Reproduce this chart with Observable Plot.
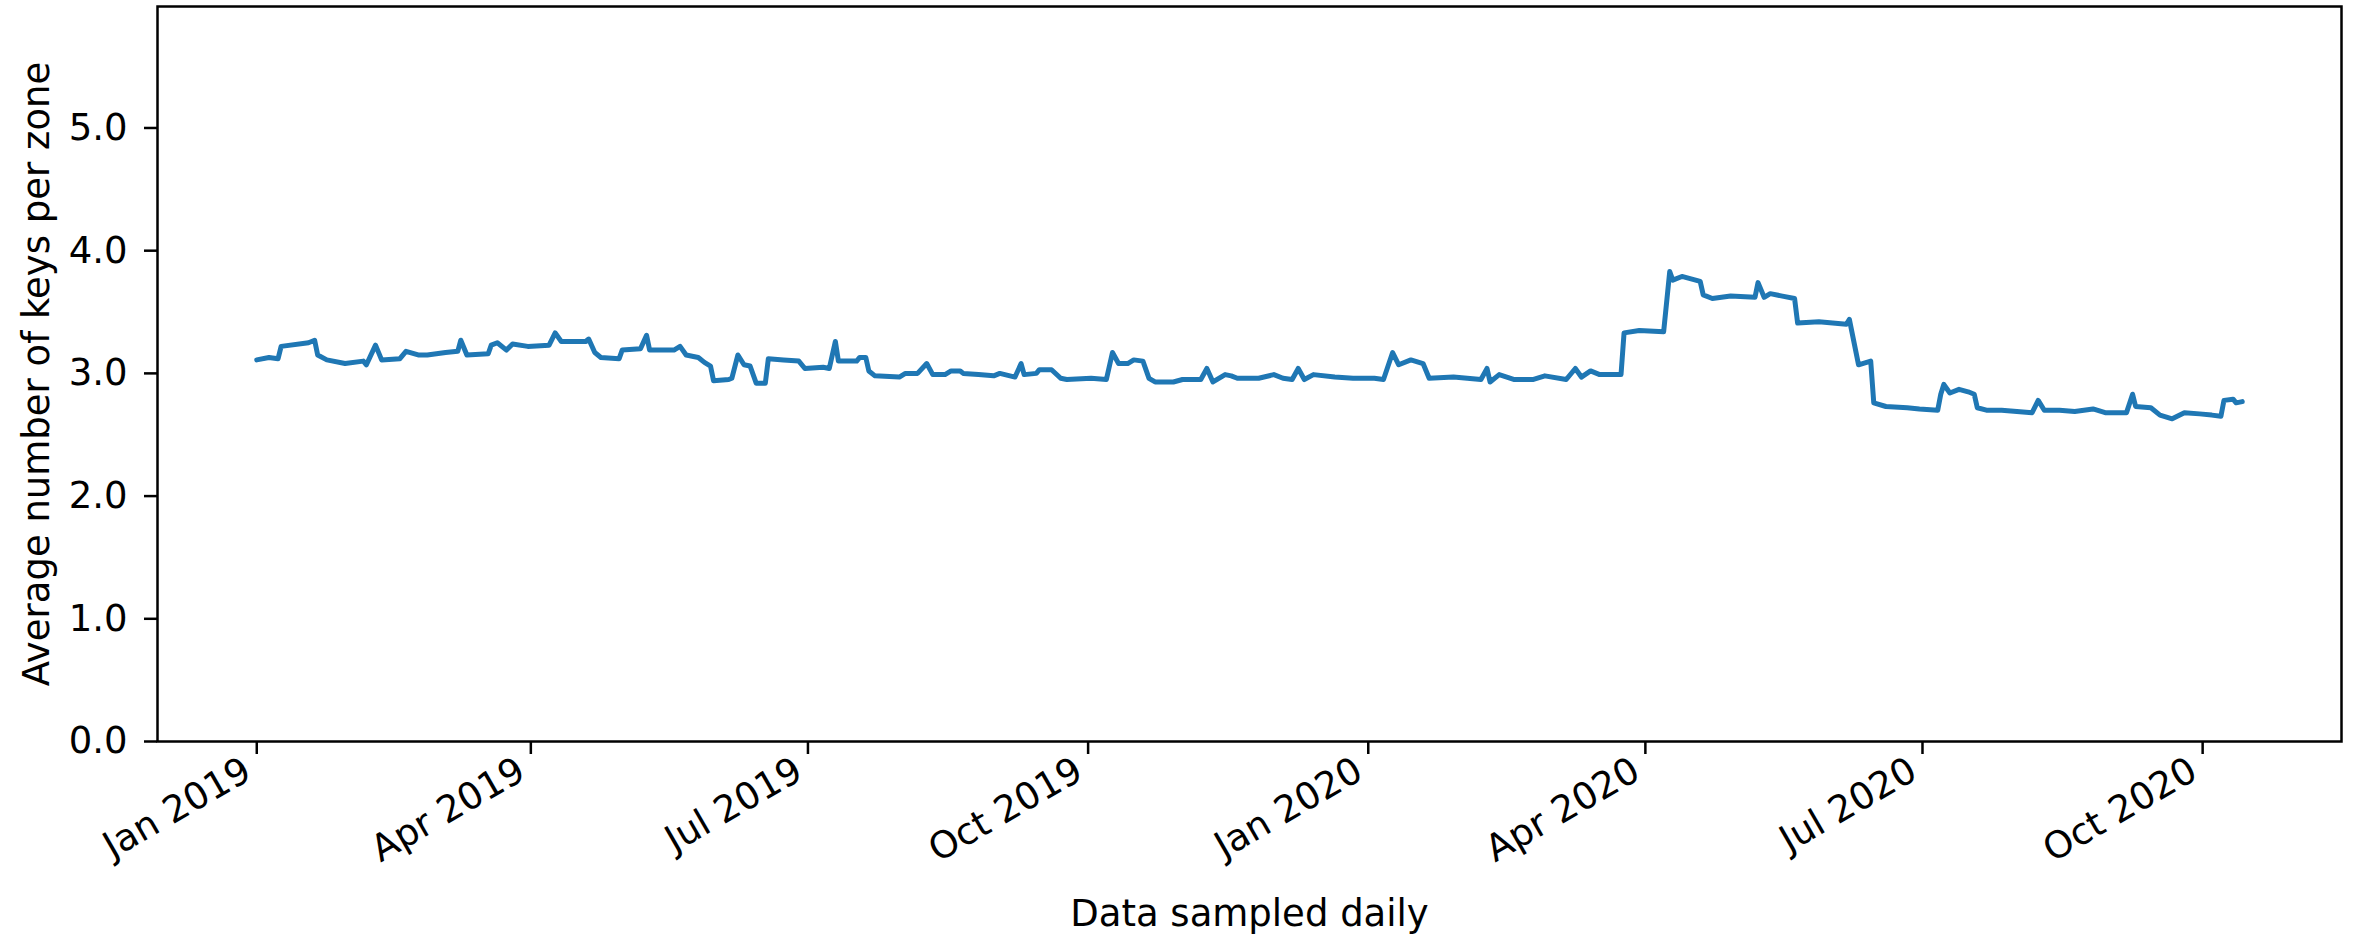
<!DOCTYPE html>
<html><head><meta charset="utf-8">
<script src="https://cdn.jsdelivr.net/npm/d3@7"></script>
<script src="https://cdn.jsdelivr.net/npm/@observablehq/plot@0.6"></script>
<style>
html,body{margin:0;padding:0;background:#fff;}
</style>
</head><body><div id="chart"></div>
<script>
const dates = [
"2019-01-01","2019-01-05","2019-01-08","2019-01-09","2019-01-18","2019-01-20","2019-01-21","2019-01-24","2019-01-30",
"2019-02-05","2019-02-06","2019-02-09","2019-02-11","2019-02-17","2019-02-19","2019-02-23","2019-02-26",
"2019-03-04","2019-03-08","2019-03-09","2019-03-11","2019-03-18","2019-03-19","2019-03-21","2019-03-24","2019-03-26","2019-03-31",
"2019-04-07","2019-04-09","2019-04-11","2019-04-19","2019-04-20","2019-04-22","2019-04-24","2019-04-30",
"2019-05-01","2019-05-07","2019-05-09","2019-05-10","2019-05-18","2019-05-20","2019-05-22","2019-05-26","2019-05-28","2019-05-30","2019-05-31",
"2019-06-05","2019-06-06","2019-06-08","2019-06-10","2019-06-12","2019-06-14","2019-06-17","2019-06-18","2019-06-23","2019-06-28","2019-06-30",
"2019-07-06","2019-07-08","2019-07-10","2019-07-11","2019-07-17","2019-07-18","2019-07-20","2019-07-21","2019-07-23","2019-07-31",
"2019-08-02","2019-08-06","2019-08-09","2019-08-11","2019-08-15","2019-08-17","2019-08-20","2019-08-21","2019-08-26","2019-08-31",
"2019-09-02","2019-09-07","2019-09-09","2019-09-10","2019-09-14","2019-09-15","2019-09-19","2019-09-22","2019-09-24",
"2019-10-02","2019-10-07","2019-10-09","2019-10-11","2019-10-14","2019-10-16","2019-10-19","2019-10-21","2019-10-23","2019-10-29",
"2019-11-01","2019-11-07","2019-11-09","2019-11-11","2019-11-15","2019-11-17","2019-11-19","2019-11-26",
"2019-12-01","2019-12-04","2019-12-07","2019-12-09","2019-12-11","2019-12-14","2019-12-21","2019-12-27",
"2020-01-03","2020-01-06","2020-01-09","2020-01-11","2020-01-15","2020-01-19","2020-01-21","2020-01-29",
"2020-02-07","2020-02-09","2020-02-10","2020-02-13","2020-02-18","2020-02-24","2020-02-28",
"2020-03-06","2020-03-09","2020-03-11","2020-03-14","2020-03-17","2020-03-24","2020-03-25","2020-03-30",
"2020-04-07","2020-04-09","2020-04-10","2020-04-13","2020-04-19","2020-04-20","2020-04-23","2020-04-29",
"2020-05-07","2020-05-08","2020-05-10","2020-05-12","2020-05-16","2020-05-20","2020-05-21","2020-05-28",
"2020-06-06","2020-06-07","2020-06-10","2020-06-14","2020-06-15","2020-06-19","2020-06-26","2020-06-30",
"2020-07-06","2020-07-07","2020-07-08","2020-07-10","2020-07-13","2020-07-16","2020-07-18","2020-07-19","2020-07-22","2020-07-27",
"2020-08-01","2020-08-06","2020-08-08","2020-08-10","2020-08-15","2020-08-20","2020-08-26","2020-08-30",
"2020-09-06","2020-09-08","2020-09-09","2020-09-14","2020-09-17","2020-09-21","2020-09-25","2020-09-30",
"2020-10-04","2020-10-07","2020-10-08","2020-10-11","2020-10-12","2020-10-14"
];
const values = [
3.11,3.13,3.12,3.22,3.25,3.27,3.15,3.11,3.08,
3.10,3.07,3.23,3.11,3.12,3.18,3.15,3.15,
3.17,3.18,3.27,3.15,3.16,3.23,3.25,3.19,3.24,3.22,
3.23,3.33,3.26,3.26,3.28,3.17,3.13,3.12,
3.19,3.20,3.31,3.19,3.19,3.22,3.15,3.13,3.09,3.06,2.94,
2.95,2.96,3.15,3.07,3.06,2.92,2.92,3.12,3.11,3.10,3.04,
3.05,3.04,3.26,3.10,3.10,3.13,3.13,3.02,2.98,2.97,
3.00,3.00,3.08,2.99,2.99,3.02,3.02,3.00,2.99,2.98,
3.00,2.97,3.08,2.99,3.00,3.03,3.03,2.96,2.95,
2.96,2.95,3.17,3.08,3.08,3.11,3.10,2.96,2.93,2.93,
2.95,2.95,3.04,2.93,2.99,2.98,2.96,2.96,
2.99,2.96,2.95,3.04,2.95,2.99,2.97,2.96,
2.96,2.95,3.17,3.07,3.11,3.08,2.96,2.97,
2.95,3.04,2.93,2.99,2.95,2.95,2.98,
2.95,3.04,2.97,3.02,2.99,2.99,3.33,3.35,
3.34,3.83,3.76,3.79,3.75,3.64,3.61,3.63,
3.62,3.74,3.62,3.65,3.63,3.61,3.41,3.42,
3.40,3.44,3.07,3.10,2.76,2.73,2.72,2.71,
2.70,2.83,2.91,2.84,2.87,2.85,2.83,2.72,2.70,2.70,
2.69,2.68,2.78,2.70,2.70,2.69,2.71,2.68,
2.68,2.83,2.73,2.72,2.66,2.63,2.68,2.67,
2.66,2.65,2.78,2.79,2.76,2.77
];
const xTickDates = ["2019-01-01","2019-04-01","2019-07-01","2019-10-01","2020-01-01","2020-04-01","2020-07-01","2020-10-01"];
const yTickValues = [0, 1, 2, 3, 4, 5];
const xDomain = ["2018-11-29T09:36:00Z", "2020-11-15T14:24:00Z"];
const yDomain = [0, 5.99];
const yLabel = "Average number of keys per zone";
const xLabel = "Data sampled daily";

const data = dates.map((d, i) => ({date: new Date(d), value: values[i]}));
const xTicks = xTickDates.map(d => new Date(d));
const font = "DejaVu Sans";
const fs = 37;

const chart = Plot.plot({
  width: 2356,
  height: 937,
  marginLeft: 157,
  marginRight: 15,
  marginTop: 6,
  marginBottom: 196,
  style: {fontFamily: font, fontSize: fs + "px", color: "#000", background: "#fff"},
  x: {type: "utc", domain: xDomain.map(d => new Date(d))},
  y: {domain: yDomain},
  marks: [
    Plot.lineY(data, {x: "date", y: "value", stroke: "#1f77b4", strokeWidth: 5, strokeLinejoin: "round"}),
    Plot.frame({stroke: "#000", strokeWidth: 2.5}),
    Plot.axisY({ticks: yTickValues, tickFormat: d3.format(".1f"), tickSize: 13, tickPadding: 17, strokeWidth: 2.5, label: null, fontSize: fs, fill: "#000"}),
    Plot.axisX({ticks: xTicks, tickFormat: () => "", tickSize: 13, strokeWidth: 2.5, label: null}),
    Plot.axisX({ticks: xTicks, tickFormat: d3.utcFormat("%b %Y"), tickRotate: -30, tickSize: 0, tickPadding: 26, dx: -9, label: null, fontSize: fs, fill: "#000"}),
    Plot.text([yLabel], {frameAnchor: "left", dx: -120, rotate: -90, fontSize: fs, fill: "#000", textAnchor: "middle"}),
    Plot.text([xLabel], {frameAnchor: "bottom", dy: 184, fontSize: fs, fill: "#000", textAnchor: "middle"})
  ]
});
document.getElementById("chart").appendChild(chart);
</script>
</body></html>
